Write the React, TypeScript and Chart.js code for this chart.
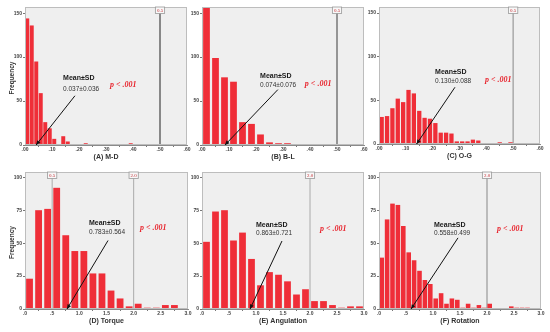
import React, { useEffect, useRef } from 'react';
import { Chart, registerables } from 'chart.js';
Chart.register(...registerables);

// ---- data (bin counts) ----
const mdCounts = [144, 136, 95, 59, 26, 19, 7, 1, 10, 4, 0, 0, 0, 2, 0, 0, 0, 0, 0, 0, 0, 0, 0, 2];
const blCounts = [175, 99, 77, 72, 26, 24, 12, 3, 2, 2, 0, 1, 1, 0, 0, 1];
const ogCounts = [31, 32, 41, 52, 48, 62, 58, 38, 30, 29, 24, 13, 13, 12, 3, 3, 3, 5, 4, 1, 1, 0, 2, 1, 2, 0, 1];
const torqueCounts = [23, 75, 76, 92, 56, 44, 44, 27, 27, 14, 8, 2, 4, 1, 1, 3, 3];
const angulationCounts = [51, 74, 75, 52, 58, 38, 18, 28, 26, 21, 11, 15, 6, 6, 3, 1, 2, 2];
const rotationCounts = [39, 68, 80, 79, 63, 43, 37, 29, 22, 19, 8, 12, 4, 8, 7, 1, 4, 1, 3, 1, 4, 0, 0, 0, 2, 1, 1, 1];

const titles = ['(A) M-D', '(B) B-L', '(C) O-G', '(D) Torque', '(E) Angulation', '(F) Rotation'];
const meanSd = ['0.037\u00b10.036', '0.074\u00b10.076', '0.130\u00b10.088', '0.783\u00b10.564', '0.863\u00b10.721', '0.558\u00b10.499'];
const pText = 'p < .001';
const refLinesTop = [0.5];
const refLinesD = [0.5, 2.0];
const refLinesEF = [2.0];

const SANS = '"Liberation Sans", Arial, sans-serif';
const SERIF = '"Liberation Serif", "Times New Roman", serif';
const RED = '#ef2e38';

type Spec = {
  counts: number[]; binW: number; xMax: number; xStep: number; dec: number;
  yMax: number; yStep: number; barPct: number;
  L: number; R: number; T: number; B: number;
  title: string; yTitle: boolean; refs: number[]; refColor: string; refWidth: number;
  mean: string;
  ann: { tx: number; ty: number; vy: number; ax1: number; ay1: number; ax2: number; px: number; py: number };
};

const specs: Spec[] = [
  { counts: mdCounts, binW: 1 / 60, xMax: 0.6, xStep: 0.1, dec: 2, yMax: 157, yStep: 50, barPct: 0.88,
    L: 25, R: 187, T: 7, B: 145, title: titles[0], yTitle: true, refs: refLinesTop, refColor: '#888', refWidth: 2, mean: meanSd[0],
    ann: { tx: 0.141, ty: 76, vy: 64, ax1: 0.185, ay1: 56, ax2: 0.041, px: 0.315, py: 68 } },
  { counts: blCounts, binW: 1 / 30, xMax: 0.6, xStep: 0.1, dec: 2, yMax: 157, yStep: 50, barPct: 0.75,
    L: 202, R: 364, T: 7, B: 145, title: titles[1], yTitle: false, refs: refLinesTop, refColor: '#777', refWidth: 1.5, mean: meanSd[1],
    ann: { tx: 0.215, ty: 78, vy: 68, ax1: 0.281, ay1: 63, ax2: 0.085, px: 0.381, py: 69 } },
  { counts: ogCounts, binW: 0.02, xMax: 0.6, xStep: 0.1, dec: 2, yMax: 157, yStep: 50, barPct: 0.8,
    L: 379, R: 540, T: 7, B: 144, title: titles[2], yTitle: false, refs: refLinesTop, refColor: '#aaa', refWidth: 1.5, mean: meanSd[2],
    ann: { tx: 0.209, ty: 82, vy: 72, ax1: 0.283, ay1: 65, ax2: 0.14, px: 0.395, py: 73 } },
  { counts: torqueCounts, binW: 1 / 6, xMax: 3, xStep: 0.5, dec: 1, yMax: 104, yStep: 25, barPct: 0.75,
    L: 25, R: 188, T: 172, B: 309, title: titles[3], yTitle: true, refs: refLinesD, refColor: '#aaa', refWidth: 1, mean: meanSd[3],
    ann: { tx: 1.178, ty: 65, vy: 58.5, ax1: 1.528, ay1: 52, ax2: 0.773, px: 2.117, py: 61.5 } },
  { counts: angulationCounts, binW: 1 / 6, xMax: 3, xStep: 0.5, dec: 1, yMax: 104, yStep: 25, barPct: 0.75,
    L: 202, R: 364, T: 172, B: 309, title: titles[4], yTitle: false, refs: refLinesEF, refColor: '#aaa', refWidth: 1, mean: meanSd[4],
    ann: { tx: 1.0, ty: 64, vy: 57.7, ax1: 1.481, ay1: 51.6, ax2: 0.889, px: 2.185, py: 60.7 } },
  { counts: rotationCounts, binW: 0.1, xMax: 3, xStep: 0.5, dec: 1, yMax: 104, yStep: 25, barPct: 0.85,
    L: 379, R: 541, T: 172, B: 309, title: titles[5], yTitle: false, refs: refLinesEF, refColor: '#bbb', refWidth: 2, mean: meanSd[5],
    ann: { tx: 1.019, ty: 64, vy: 57.7, ax1: 1.463, ay1: 54, ax2: 0.593, px: 2.185, py: 60.7 } },
];

const Y_W = 25;
const PAD_T = 7;
const PAD_R = 8;
const X_H = 9;
const BOT = 20;

function Panel({ s }: { s: Spec }) {
  const ref = useRef<HTMLCanvasElement | null>(null);
  const w = s.R - s.L + Y_W + PAD_R;
  const h = s.B - s.T + PAD_T + BOT;
  useEffect(() => {
    const deco = {
      id: 'deco',
      beforeDraw(chart: any) {
        const { ctx, chartArea: a } = chart;
        ctx.save();
        ctx.fillStyle = '#efefef';
        ctx.fillRect(a.left, a.top, a.right - a.left, a.bottom - a.top);
        ctx.restore();
      },
      beforeDatasetsDraw(chart: any) {
        const { ctx, chartArea: a, scales } = chart;
        ctx.save();
        ctx.strokeStyle = s.refColor;
        ctx.lineWidth = s.refWidth;
        s.refs.forEach((r) => {
          const x = scales.x.getPixelForValue(r);
          ctx.beginPath();
          ctx.moveTo(x, a.top);
          ctx.lineTo(x, a.bottom);
          ctx.stroke();
        });
        ctx.restore();
      },
      afterDatasetsDraw(chart: any) {
        const { ctx, chartArea: a, scales } = chart;
        const X = (v: number) => scales.x.getPixelForValue(v);
        const Y = (v: number) => scales.y.getPixelForValue(v);
        ctx.save();
        // frame
        ctx.strokeStyle = '#bdbdbd';
        ctx.lineWidth = 1;
        ctx.strokeRect(a.left + 0.5, a.top + 0.5, a.right - a.left - 1, a.bottom - a.top - 1);
        // ref labels
        s.refs.forEach((r) => {
          const x = X(r);
          const lbl = r.toFixed(1);
          ctx.font = `5px ${SERIF}`;
          const tw = ctx.measureText(lbl).width;
          ctx.fillStyle = '#f8f8f8';
          ctx.fillRect(x - tw / 2 - 1.5, a.top, tw + 3, 6.5);
          ctx.strokeStyle = '#999';
          ctx.lineWidth = 0.8;
          ctx.strokeRect(x - tw / 2 - 1.5, a.top, tw + 3, 6.5);
          ctx.fillStyle = '#c0282e';
          ctx.textAlign = 'center';
          ctx.textBaseline = 'middle';
          ctx.fillText(lbl, x, a.top + 3.4);
        });
        // annotation
        const an = s.ann;
        ctx.textAlign = 'left';
        ctx.textBaseline = 'middle';
        ctx.fillStyle = '#1a1a1a';
        ctx.font = `bold 7px ${SANS}`;
        ctx.fillText('Mean\u00b1SD', X(an.tx), Y(an.ty));
        ctx.fillStyle = '#333';
        ctx.font = `6.5px ${SANS}`;
        ctx.fillText(s.mean, X(an.tx), Y(an.vy));
        ctx.fillStyle = '#e8262f';
        ctx.font = `italic bold 8px ${SERIF}`;
        ctx.fillText(pText, X(an.px), Y(an.py));
        // arrow
        const x1 = X(an.ax1), y1 = Y(an.ay1), x2 = X(an.ax2), y2 = Y(0);
        ctx.strokeStyle = '#111';
        ctx.lineWidth = 1;
        ctx.beginPath();
        ctx.moveTo(x1, y1);
        ctx.lineTo(x2, y2);
        ctx.stroke();
        const ang = Math.atan2(y2 - y1, x2 - x1);
        const hl = 4.5, hw = 2;
        ctx.fillStyle = '#111';
        ctx.beginPath();
        ctx.moveTo(x2, y2);
        ctx.lineTo(x2 - hl * Math.cos(ang) + hw * Math.sin(ang), y2 - hl * Math.sin(ang) - hw * Math.cos(ang));
        ctx.lineTo(x2 - hl * Math.cos(ang) - hw * Math.sin(ang), y2 - hl * Math.sin(ang) + hw * Math.cos(ang));
        ctx.closePath();
        ctx.fill();
        // title
        ctx.fillStyle = '#333';
        ctx.font = `bold 7px ${SANS}`;
        ctx.textAlign = 'center';
        ctx.fillText(s.title, (a.left + a.right) / 2, a.bottom + 12.5);
        if (s.yTitle) {
          ctx.translate(a.left - 13, (a.top + a.bottom) / 2 + 2);
          ctx.rotate(-Math.PI / 2);
          ctx.font = `bold 6.5px ${SANS}`;
          ctx.fillText('Frequency', 0, 0);
        }
        ctx.restore();
      },
    };
    const tickFont = { size: 5, family: SANS, weight: 'bold' as const };
    const chart = new Chart(ref.current as HTMLCanvasElement, {
      type: 'bar',
      data: {
        datasets: [{
          data: s.counts.map((c, i) => ({ x: (i + 0.5) * s.binW, y: c })),
          backgroundColor: RED,
          borderWidth: 0,
          barPercentage: s.barPct,
          categoryPercentage: 1,
        }],
      },
      options: {
        animation: false,
        responsive: false,
        devicePixelRatio: 1,
        layout: { padding: { top: PAD_T, right: PAD_R, bottom: BOT - X_H, left: 0 } },
        plugins: { legend: { display: false }, tooltip: { enabled: false } },
        scales: {
          x: {
            type: 'linear', min: 0, max: s.xMax, offset: false,
            ticks: {
              stepSize: s.xStep, autoSkip: false, maxRotation: 0, padding: 0, color: '#444', font: tickFont,
              callback: (v: any) => Number(v).toFixed(s.dec).replace(/^0/, ''),
            },
            grid: { drawOnChartArea: false, drawTicks: true, tickLength: 2, color: '#777' },
            border: { display: true, color: '#8a8a8a' },
            afterFit: (sc: any) => { sc.height = X_H; },
          },
          y: {
            type: 'linear', min: 0, max: s.yMax,
            ticks: { stepSize: s.yStep, includeBounds: false, padding: 1, color: '#444', font: tickFont },
            grid: { drawOnChartArea: false, drawTicks: true, tickLength: 2, color: '#777' },
            border: { display: true, color: '#8a8a8a' },
            afterFit: (sc: any) => { sc.width = Y_W; },
          },
        },
      } as any,
      plugins: [deco],
    });
    return () => chart.destroy();
  }, []);
  return (
    <canvas
      ref={ref}
      width={w}
      height={h}
      style={{ position: 'absolute', left: s.L - Y_W, top: s.T - PAD_T, width: w, height: h }}
    />
  );
}

export default function App() {
  return (
    <div style={{ position: 'absolute', left: 0, top: 0, width: 550, height: 332, background: '#fff' }}>
      {specs.map((s, i) => <Panel key={i} s={s} />)}
    </div>
  );
}
